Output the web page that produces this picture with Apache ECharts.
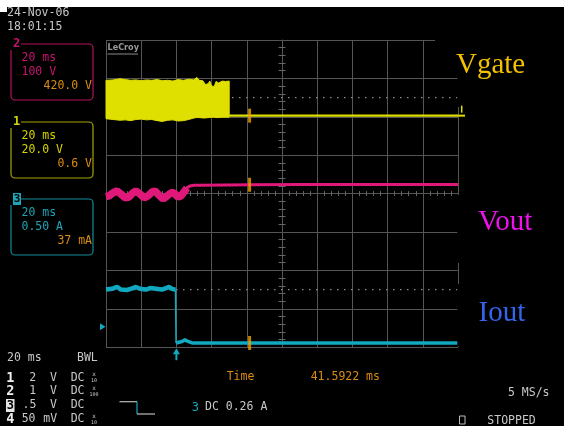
<!DOCTYPE html>
<html><head><meta charset="utf-8">
<style>html,body{margin:0;padding:0;background:#000;}#c{width:564px;height:426px;}</style>
<script src="https://cdn.jsdelivr.net/npm/echarts@6/dist/echarts.min.js"></script>
</head><body><div id="c"></div>
<script>
// ---- data (time in ms, amplitude in screen divisions) ----
const gateT  = [-100,-96,-92,-89,-86,-83,-80,-77,-74,-71,-68,-65,-62,-59,-56,-53,-50,-48.5,-47,-45,-43.5,-42,-41,-40,-38.5,-37.5,-36,-34,-32,-30];
const gateHi = [2.95,2.96,2.99,2.97,2.95,2.96,2.94,2.96,2.95,2.97,2.94,2.95,2.93,2.97,2.95,2.98,2.96,3.03,2.95,2.94,2.84,2.86,2.93,2.80,2.79,2.92,2.88,2.93,2.92,2.93];
const gateLo = [1.95,1.93,1.91,1.92,1.90,1.93,1.94,1.92,1.93,1.90,1.88,1.91,1.92,1.89,1.90,1.93,1.97,1.98,1.98,1.97,1.97,1.98,1.98,1.99,1.99,1.98,1.98,1.99,1.99,1.99];
const gateFlatT = [-30, 100];
const gateFlatV = [2.03, 2.03];

const voutT = [-100,-98.3,-96,-93.8,-91.5,-89.2,-86.9,-84.7,-83,-80.7,-78.4,-76.1,-73.9,-72.2,-69.9,-67.6,-65.3,-63.1,-61.4,-59.1,-57.4,-55.7,-54,-52.3,-50,-46.6,-18.2,10.2,100];
const voutV = [-0.08,-0.06,0.02,0.07,-0.01,-0.11,-0.09,0.02,0.07,-0.01,-0.11,-0.06,0.04,0.07,-0.04,-0.14,-0.06,0.02,0.02,-0.09,-0.06,0.04,0.15,0.20,0.22,0.22,0.23,0.24,0.24];
const voutRippleCount = 23;

const ioutHighT = [-100,-96.6,-93.75,-91.5,-88.1,-84.7,-83,-80.7,-77.3,-75,-73.9,-71.6,-68.2,-65.9,-64.2,-62.5,-60.5];
const ioutHighV = [-2.50,-2.48,-2.43,-2.50,-2.51,-2.46,-2.43,-2.48,-2.50,-2.46,-2.43,-2.48,-2.50,-2.46,-2.43,-2.48,-2.50];
const ioutLowT = [-60.2,-56.8,-55.1,-53.4,-51.1,100];
const ioutLowV = [-3.89,-3.85,-3.81,-3.85,-3.89,-3.89];

const levelLines = [2.5, -2.5];
const triggerT = -60;
const cursorDelta = 41.5922;
const ch3Level = -3.47;

// ---- colours / styles ----
const GRID = '#555555';
const YEL = '#e0e000', MAG = '#e0187a', CYA = '#12a8c0', ORG = '#d98c12', GRY = '#c8c8c8';
const MONO = '"DejaVu Sans Mono", monospace';

const zip = (a, b) => a.map((t, i) => [t, b[i]]);

const chart = echarts.init(document.getElementById('c'), null, {renderer: 'canvas'});

const series = [];
levelLines.forEach(v => series.push({
  type: 'line', data: [[-100, v], [100, v]], symbol: 'none', z: 1, silent: true,
  lineStyle: {color: '#8a8a8a', width: 1.3, type: [1.5, 5.5]}
}));
series.push({
  type: 'custom', name: 'Vgate', z: 3,
  data: gateT.map((t, i) => [t, gateHi[i], gateLo[i]]),
  encode: {x: 0, y: [1, 2]},
  renderItem: function (params, api) {
    if (params.dataIndex !== 0) return null;
    const pts = [];
    for (let i = 0; i < gateT.length; i++) pts.push(api.coord([gateT[i], gateHi[i]]));
    for (let i = gateT.length - 1; i >= 0; i--) pts.push(api.coord([gateT[i], gateLo[i]]));
    return {type: 'polygon', shape: {points: pts}, style: {fill: YEL, stroke: YEL, lineWidth: 1}};
  }
});
series.push({type: 'line', name: 'VgateFlat', data: zip(gateFlatT, gateFlatV), symbol: 'none', z: 3,
  lineStyle: {color: YEL, width: 2.2}});
series.push({type: 'line', name: 'Vout', data: zip(voutT, voutV), symbol: 'none', z: 3,
  lineStyle: {color: MAG, width: 3}});
series.push({type: 'line', name: 'VoutRipple', data: zip(voutT, voutV).slice(0, voutRippleCount), symbol: 'none', z: 3,
  lineStyle: {color: MAG, width: 7.5}});
series.push({type: 'line', name: 'Iout', data: zip(ioutHighT, ioutHighV), symbol: 'none', z: 3,
  lineStyle: {color: CYA, width: 4.5}});
series.push({type: 'line', name: 'IoutDrop', data: [[ioutHighT[ioutHighT.length-1], ioutHighV[ioutHighV.length-1]], [ioutLowT[0], ioutLowV[0]]],
  symbol: 'none', z: 3, lineStyle: {color: CYA, width: 1.5}});
series.push({type: 'line', name: 'IoutLow', data: zip(ioutLowT, ioutLowV), symbol: 'none', z: 3,
  lineStyle: {color: CYA, width: 3.5}});
const cursorT = triggerT + cursorDelta;
series.push({type: 'scatter', name: 'cursor', z: 6, symbol: 'rect', symbolSize: [3, 14],
  itemStyle: {color: '#f0a000'},
  data: [[cursorT, gateFlatV[0]], [cursorT, voutV[26]], [cursorT, ioutLowV[ioutLowV.length-1]]]});

const baseAxis = (extra) => Object.assign({
  type: 'value', axisLabel: {show: false}, axisTick: {show: false, inside: false},
  splitLine: {show: false}
}, extra);

const option = {
  backgroundColor: '#000',
  animation: false,
  grid: {left: 106, top: 40, width: 352, height: 307.2, show: false},
  xAxis: [
    baseAxis({min: -100, max: 100, interval: 20, position: 'bottom',
      axisLine: {show: true, onZero: true, onZeroAxisIndex: 0, lineStyle: {color: GRID, width: 1}},
      minorTick: {show: true, splitNumber: 5, length: 2.5, lineStyle: {color: '#666'}},
      splitLine: {show: true, lineStyle: {color: GRID, width: 1}}}),
    baseAxis({min: -100, max: 100, interval: 20, position: 'top',
      axisLine: {show: false, onZero: true, onZeroAxisIndex: 1},
      minorTick: {show: true, splitNumber: 5, length: 2.5, lineStyle: {color: '#666'}}})
  ],
  yAxis: [
    baseAxis({min: -4, max: 4, interval: 1, position: 'left',
      axisLine: {show: true, onZero: true, onZeroAxisIndex: 0, lineStyle: {color: GRID, width: 1}},
      minorTick: {show: true, splitNumber: 5, length: 3.5, lineStyle: {color: '#666'}},
      splitLine: {show: true, lineStyle: {color: GRID, width: 1}}}),
    baseAxis({min: -4, max: 4, interval: 1, position: 'right',
      axisLine: {show: false, onZero: true, onZeroAxisIndex: 1},
      minorTick: {show: true, splitNumber: 5, length: 3.5, lineStyle: {color: '#666'}}})
  ],
  series: series
};
chart.setOption(option);

// ---- annotation graphics ----
function T(text, x, y, fill, o) {
  o = o || {};
  const align = o.align || 'left';
  return {type: 'text', z: 60, style: {
    text: text, x: x, y: y, fill: fill, font: o.font || ('11.5px ' + MONO),
    align: align, verticalAlign: 'middle', textAlign: align, textVerticalAlign: 'middle'
  }};
}
function R(x, y, w, h, o) {
  o = o || {};
  return {type: 'rect', z: o.z || 55, shape: {x: x, y: y, width: w, height: h, r: o.r || 0},
    style: {fill: o.fill || 'none', stroke: o.stroke || null, lineWidth: o.lw || 1}};
}
function L(x1, y1, x2, y2, c, w) {
  return {type: 'line', z: 60, shape: {x1: x1, y1: y1, x2: x2, y2: y2}, style: {stroke: c, lineWidth: w || 1}};
}
const P = (t, v) => chart.convertToPixel({xAxisIndex: 0, yAxisIndex: 0}, [t, v]);

const g = [];
// white strip at top
g.push(R(0, 0, 564, 7, {fill: '#ffffff', z: 70}));
g.push(R(0, 0, 7, 12, {fill: '#ffffff', z: 70}));
// hide parts of the screen border (overlaid label areas)
g.push(R(435, 36, 30, 8, {fill: '#000', z: 50}));
g.push(R(457.3, 36, 10, 71, {fill: '#000', z: 50}));
g.push(R(457.3, 195, 10, 68, {fill: '#000', z: 50}));
g.push(R(457.3, 284, 10, 62, {fill: '#000', z: 50}));

// date / time
g.push(T('24-Nov-06', 7, 13.5, GRY));
g.push(T('18:01:15', 7, 27, GRY));

// LeCroy logo
g.push(T('LeCroy', 107.5, 48, '#9a9a9a', {font: 'bold 9px "DejaVu Sans Condensed", "DejaVu Sans"'}));
g.push(L(107.5, 54, 138, 54, '#8a8a8a', 1));

// channel boxes
const boxes = [
  {y: 44, label: '2', c: '#c8146e', b: '#b4125f', lines: ['20 ms', '100 V'], val: '420.0 V'},
  {y: 122, label: '1', c: '#d4d400', b: '#a4a400', lines: ['20 ms', '20.0 V'], val: '0.6 V'},
  {y: 199, label: '3', c: '#1ea4b6', b: '#138a9a', lines: ['20 ms', '0.50 A'], val: '37 mA', boxed: true}
];
boxes.forEach(bx => {
  g.push(R(11, bx.y, 82, 56, {stroke: bx.b, lw: 1.2, r: 4}));
  g.push(R(9, bx.y - 5, 12, 11, {fill: '#000', z: 57}));
  if (bx.boxed) {
    g.push(R(13, bx.y - 6, 8, 12, {fill: bx.c, z: 58}));
    g.push(T(bx.label, 17, bx.y, '#000', {align: 'center', font: 'bold 11px ' + MONO}));
  } else {
    g.push(T(bx.label, 13, bx.y, bx.c, {font: 'bold 12px ' + MONO}));
  }
  g.push(T(bx.lines[0], 21.5, bx.y + 14, bx.c));
  g.push(T(bx.lines[1], 21.5, bx.y + 28, bx.c));
  g.push(T(bx.val, 92, bx.y + 42.5, ORG, {align: 'right'}));
});

// bottom status area
g.push(T('20 ms', 7, 358.5, GRY));
g.push(T('BWL', 77, 358.5, GRY));
const rows = [
  {y: 378, ch: '1', v: '2', vx: 29.3, u: 'V', ux: 50, prb: '10'},
  {y: 391.5, ch: '2', v: '1', vx: 29.3, u: 'V', ux: 50, prb: '100'},
  {y: 405.5, ch: '3', v: '.5', vx: 22.5, u: 'V', ux: 50, prb: null, boxed: true},
  {y: 419.5, ch: '4', v: '50', vx: 21.7, u: 'mV', ux: 43.3, prb: '10'}
];
rows.forEach(r => {
  if (r.boxed) {
    g.push(R(6, r.y - 6.5, 8.5, 13, {fill: '#e6e6e6', z: 58}));
    g.push(T(r.ch, 10.3, r.y, '#000', {align: 'center', font: 'bold 12px ' + MONO}));
  } else {
    g.push(T(r.ch, 10.3, r.y, '#f0f0f0', {align: 'center', font: 'bold 13.5px ' + MONO}));
  }
  g.push(T(r.v, r.vx, r.y, GRY));
  g.push(T(r.u, r.ux, r.y, GRY));
  g.push(T('DC', 70.7, r.y, GRY));
  if (r.prb) {
    g.push(T('x', 94, r.y - 3.2, GRY, {align: 'center', font: '6px ' + MONO}));
    g.push(T(r.prb, 94, r.y + 3.2, GRY, {align: 'center', font: '5px ' + MONO}));
  }
});
// trigger step symbol
g.push(L(119.5, 401.7, 137, 401.7, '#bdbdbd', 1.2));
g.push(L(137, 401.7, 137, 414, CYA, 1.2));
g.push(L(137, 414, 155, 414, '#bdbdbd', 1.2));
g.push(T('3', 191.7, 408, CYA, {font: '12px ' + MONO}));
g.push(T('DC 0.26 A', 205, 407.5, GRY));
g.push(T('Time', 226.7, 377.5, ORG));
g.push(T(cursorDelta.toFixed(4) + ' ms', 310.7, 377.5, ORG));
g.push(T('5 MS/s', 549.5, 393.5, GRY, {align: 'right'}));
g.push(R(459.5, 416, 5.5, 8, {stroke: '#bdbdbd', lw: 1}));
g.push(T('STOPPED', 487.3, 421, GRY));

// right-side signal names
const SERIF = '"Liberation Serif", "Times New Roman", serif';
g.push(T('Vgate', 456, 65, '#f2c200', {font: '29px ' + SERIF}));
g.push(T('Vout', 478, 222.5, '#ee12ee', {font: '29px ' + SERIF}));
g.push(T('Iout', 478.5, 313, '#3464ec', {font: '29px ' + SERIF}));

// scope markers from axis coordinates
const trg = P(triggerT, -4);
g.push({type: 'polygon', z: 60, shape: {points: [[trg[0] - 3.5, trg[1] + 7], [trg[0] + 3.5, trg[1] + 7], [trg[0], trg[1] + 1]]}, style: {fill: CYA}});
g.push(L(trg[0], trg[1] + 6, trg[0], trg[1] + 13, CYA, 2));
const lvl = P(-100, ch3Level);
g.push({type: 'polygon', z: 60, shape: {points: [[lvl[0] - 6, lvl[1] - 3.5], [lvl[0] - 6, lvl[1] + 3.5], [lvl[0] - 0.5, lvl[1]]]}, style: {fill: CYA}});
const gm = P(100, gateFlatV[1]);
g.push(L(gm[0], gm[1], gm[0] + 7, gm[1], YEL, 2));
g.push(L(gm[0] + 3.7, gm[1] - 10, gm[0] + 3.7, gm[1] - 3, YEL, 1.5));

chart.setOption({graphic: {elements: g}});
</script></body></html>
